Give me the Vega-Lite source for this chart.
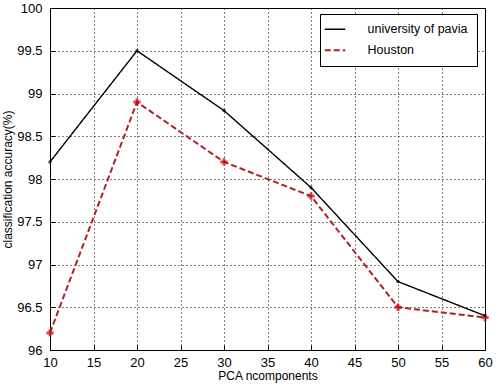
{
  "$schema": "https://vega.github.io/schema/vega-lite/v6.json",
  "width": 435,
  "height": 342,
  "autosize": "none",
  "padding": {"left": 50, "top": 8, "right": 19, "bottom": 42},
  "background": "white",
  "config": {
    "font": "Liberation Sans",
    "view": {"stroke": "black", "strokeWidth": 1},
    "axis": {
      "domainColor": "black",
      "tickColor": "black",
      "labelColor": "black",
      "titleColor": "black",
      "labelFont": "Liberation Sans",
      "titleFont": "Liberation Sans",
      "labelFontSize": 13,
      "titleFontSize": 12,
      "titleFontWeight": "normal",
      "gridColor": "black",
      "gridDash": [1, 3],
      "gridOpacity": 1,
      "tickSize": -5,
      "labelFlush": false,
      "labelOverlap": false
    }
  },
  "data": {
    "values": [
      {"n": 10, "acc": 98.2, "series": "university of pavia"},
      {"n": 20, "acc": 99.5, "series": "university of pavia"},
      {"n": 30, "acc": 98.8, "series": "university of pavia"},
      {"n": 40, "acc": 97.9, "series": "university of pavia"},
      {"n": 50, "acc": 96.8, "series": "university of pavia"},
      {"n": 60, "acc": 96.4, "series": "university of pavia"},
      {"n": 10, "acc": 96.2, "series": "Houston"},
      {"n": 20, "acc": 98.9, "series": "Houston"},
      {"n": 30, "acc": 98.2, "series": "Houston"},
      {"n": 40, "acc": 97.8, "series": "Houston"},
      {"n": 50, "acc": 96.5, "series": "Houston"},
      {"n": 60, "acc": 96.38, "series": "Houston"}
    ]
  },
  "encoding": {
    "x": {
      "field": "n", "type": "quantitative",
      "scale": {"domain": [10, 60], "nice": false, "zero": false},
      "axis": {"values": [10, 15, 20, 25, 30, 35, 40, 45, 50, 55, 60], "title": "PCA ncomponents", "titlePadding": 1, "labelPadding": 11}
    },
    "y": {
      "field": "acc", "type": "quantitative",
      "scale": {"domain": [96, 100], "nice": false, "zero": false},
      "axis": {"values": [96, 96.5, 97, 97.5, 98, 98.5, 99, 99.5, 100], "format": "~r", "title": "classification accuracy(%)", "titlePadding": 2, "labelPadding": 13}
    }
  },
  "layer": [
    {
      "mark": {"type": "line"},
      "encoding": {
        "color": {
          "field": "series", "type": "nominal",
          "scale": {"domain": ["university of pavia", "Houston"], "range": ["black", "#b0202a"]},
          "legend": {
            "title": null, "orient": "none", "legendX": 270, "legendY": 6,
            "fillColor": "white", "strokeColor": "black", "padding": 9,
            "symbolType": "M-2.1,0H2.0", "symbolSize": 100, "symbolStrokeWidth": 2,
            "labelFontSize": 12.5, "labelColor": "black", "rowPadding": 8, "labelLimit": 300, "labelOffset": 26
          }
        },
        "strokeDash": {
          "field": "series", "type": "nominal",
          "scale": {"domain": ["university of pavia", "Houston"], "range": [[1, 0], [6, 3]]},
          "legend": {
            "title": null, "orient": "none", "legendX": 270, "legendY": 6,
            "fillColor": "white", "strokeColor": "black", "padding": 9,
            "symbolType": "M-2.1,0H2.0", "symbolSize": 100, "symbolStrokeWidth": 2,
            "labelFontSize": 12.5, "labelColor": "black", "rowPadding": 8, "labelLimit": 300, "labelOffset": 26
          }
        },
        "strokeWidth": {
          "field": "series", "type": "nominal",
          "scale": {"domain": ["university of pavia", "Houston"], "range": [1.4, 2]},
          "legend": null
        }
      }
    },
    {
      "mark": {"type": "point", "filled": true, "size": 55, "shape": "cross"},
      "transform": [{"filter": "datum.series === 'Houston'"}],
      "encoding": {"color": {"value": "#cc0000"}}
    },
    {
      "mark": {"type": "point", "filled": true, "size": 12, "shape": "circle"},
      "transform": [{"filter": "datum.series === 'university of pavia'"}],
      "encoding": {"color": {"value": "black"}}
    }
  ]
}
